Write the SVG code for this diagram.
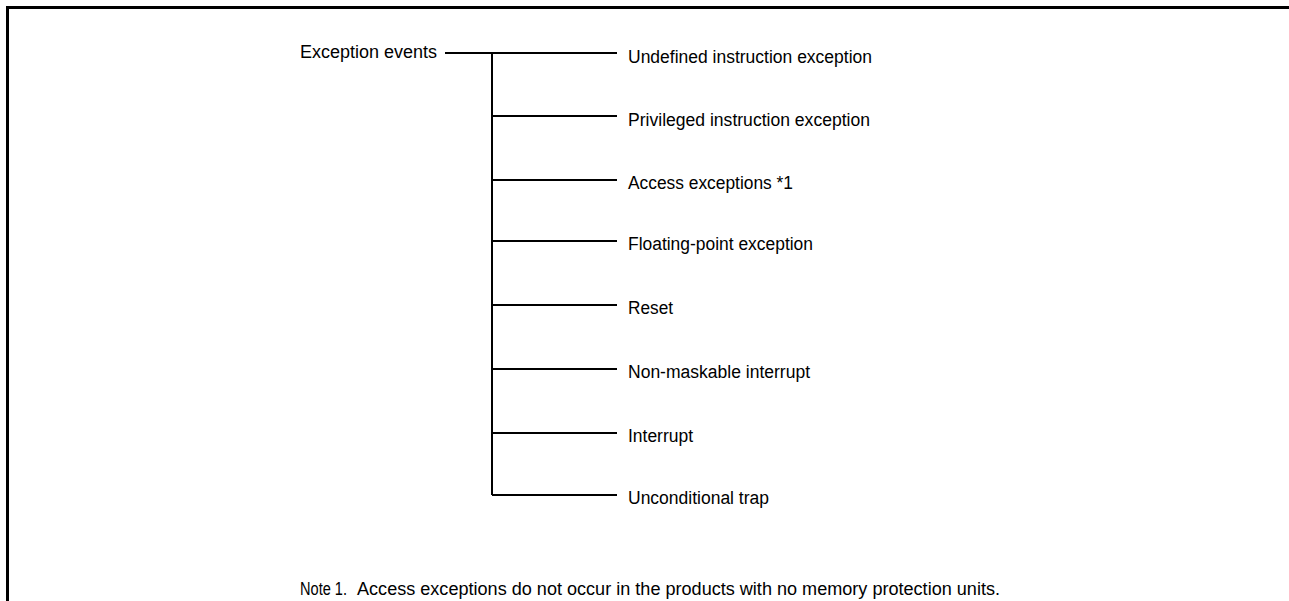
<svg xmlns="http://www.w3.org/2000/svg" width="1289" height="601" viewBox="0 0 1289 601">
<style>
.t{font-family:"Liberation Sans",Arial,sans-serif;font-size:18px;fill:#000}
.c{stroke:#000;stroke-width:2;fill:none}
.f{stroke:#000;stroke-width:3;fill:none}
</style>
<rect width="1289" height="601" fill="#fff"/>
<g id="frame"><path class="f" d="M7.5 601V7.5H1289"/></g>
<g id="connectors">
<path class="c" d="M445 53H617M492 53V495M492 116H617M492 180H617M492 241H617M492 305H617M492 369H617M492 433H617M492 495H617"/>
</g>
<g id="root"><text class="t" x="300" y="57.5" textLength="137" lengthAdjust="spacingAndGlyphs">Exception events</text></g>
<g id="n1"><text class="t" x="628" y="62.5" textLength="244" lengthAdjust="spacingAndGlyphs">Undefined instruction exception</text></g>
<g id="n2"><text class="t" x="628" y="125.5" textLength="242" lengthAdjust="spacingAndGlyphs">Privileged instruction exception</text></g>
<g id="n3"><text class="t" x="628" y="188.5" textLength="165" lengthAdjust="spacingAndGlyphs">Access exceptions *1</text></g>
<g id="n4"><text class="t" x="628" y="249.5" textLength="185" lengthAdjust="spacingAndGlyphs">Floating-point exception</text></g>
<g id="n5"><text class="t" x="628" y="313.5" textLength="45" lengthAdjust="spacingAndGlyphs">Reset</text></g>
<g id="n6"><text class="t" x="628" y="377.5" textLength="182" lengthAdjust="spacingAndGlyphs">Non-maskable interrupt</text></g>
<g id="n7"><text class="t" x="628" y="441.5" textLength="65" lengthAdjust="spacingAndGlyphs">Interrupt</text></g>
<g id="n8"><text class="t" x="628" y="503.5" textLength="141" lengthAdjust="spacingAndGlyphs">Unconditional trap</text></g>
<g id="note">
<text class="t" x="300" y="595" textLength="47" lengthAdjust="spacingAndGlyphs">Note 1.</text>
<text class="t" x="357" y="595" textLength="643" lengthAdjust="spacingAndGlyphs">Access exceptions do not occur in the products with no memory protection units.</text>
</g>
</svg>
